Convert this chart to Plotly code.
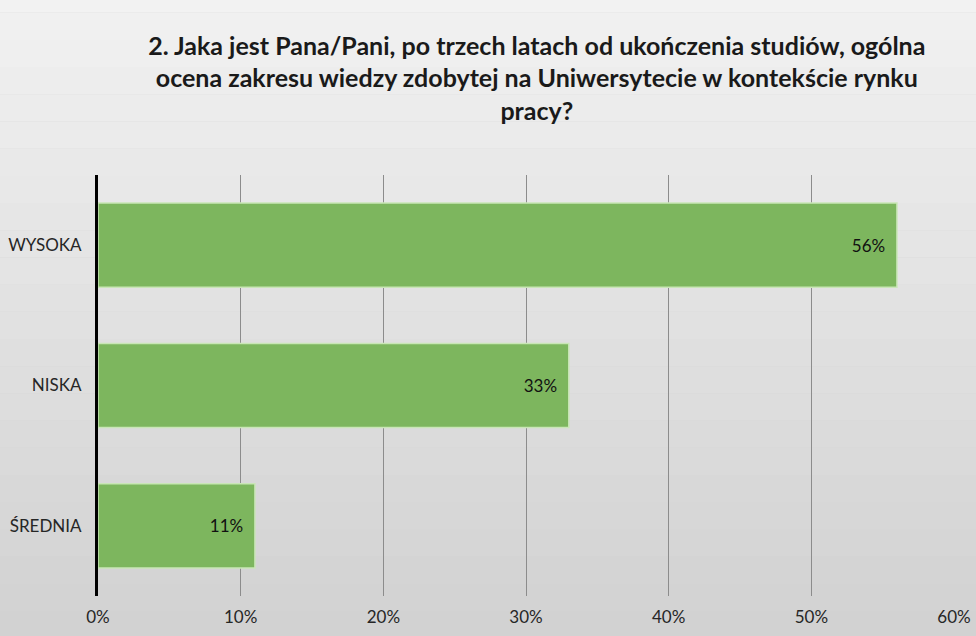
import plotly.graph_objects as go

categories = ["WYSOKA", "NISKA", "ŚREDNIA"]
shares = [0.56, 0.33, 0.11]
labels = ["56%", "33%", "11%"]
x_ticks = [0, 0.1, 0.2, 0.3, 0.4, 0.5, 0.6]
x_tick_text = ["0%", "10%", "20%", "30%", "40%", "50%", "60%"]

TITLE = ("<b>2. Jaka jest Pana/Pani, po trzech latach od ukończenia studiów, ogólna<br>"
         "ocena zakresu wiedzy zdobytej na Uniwersytecie w kontekście rynku<br>pracy?</b>")
FONT = "Lato, Carlito, Calibri, sans-serif"

fig = go.Figure(go.Bar(
    x=shares, y=categories, orientation="h",
    text=labels, texttemplate="%{text}\u00a0\u00a0",
    textposition="inside", insidetextanchor="end",
    textfont=dict(family=FONT, size=17, color="#111111"),
    marker=dict(color="#7db65e", line=dict(color="#c9e6b6", width=1.5)),
    width=0.6,
))

# soft grey background gradient, lighter towards the top
shapes = []
steps = 24
for i in range(steps):
    g = int(242 - 32 * i / (steps - 1))
    shapes.append(dict(type="rect", xref="paper", yref="paper", layer="below",
                       x0=-0.2, x1=1.2, y0=1.45 - (i + 1) * 1.55 / steps, y1=1.45 - i * 1.55 / steps,
                       fillcolor=f"rgb({g},{g},{g})", line=dict(width=0)))

fig.update_layout(
    width=976, height=636,
    margin=dict(l=98, r=22, t=175, b=40),
    paper_bgcolor="#d4d4d4", plot_bgcolor="rgba(0,0,0,0)",
    shapes=shapes,
    showlegend=False,
    title=dict(text=TITLE, x=0.55, xanchor="center", y=0.914, yanchor="top",
               font=dict(family=FONT, size=25, color="#1a1a1a")),
    font=dict(family=FONT, size=17, color="#262626"),
)
fig.update_xaxes(range=[0, 0.6], tickvals=x_ticks, ticktext=x_tick_text,
                 showgrid=True, gridcolor="#8c8c8c", gridwidth=1, automargin=False,
                 zeroline=False, showline=False, ticks="", ticklabelstandoff=9,
                 tickfont=dict(size=17))
fig.update_yaxes(autorange="reversed", showline=True, linecolor="#000000", linewidth=3,
                 showgrid=False, ticks="", ticklabelstandoff=10, automargin=False,
                 tickfont=dict(size=17))

fig.write_html("out.html", config={"displayModeBar": False},
               post_script="document.body.style.margin='0';")
